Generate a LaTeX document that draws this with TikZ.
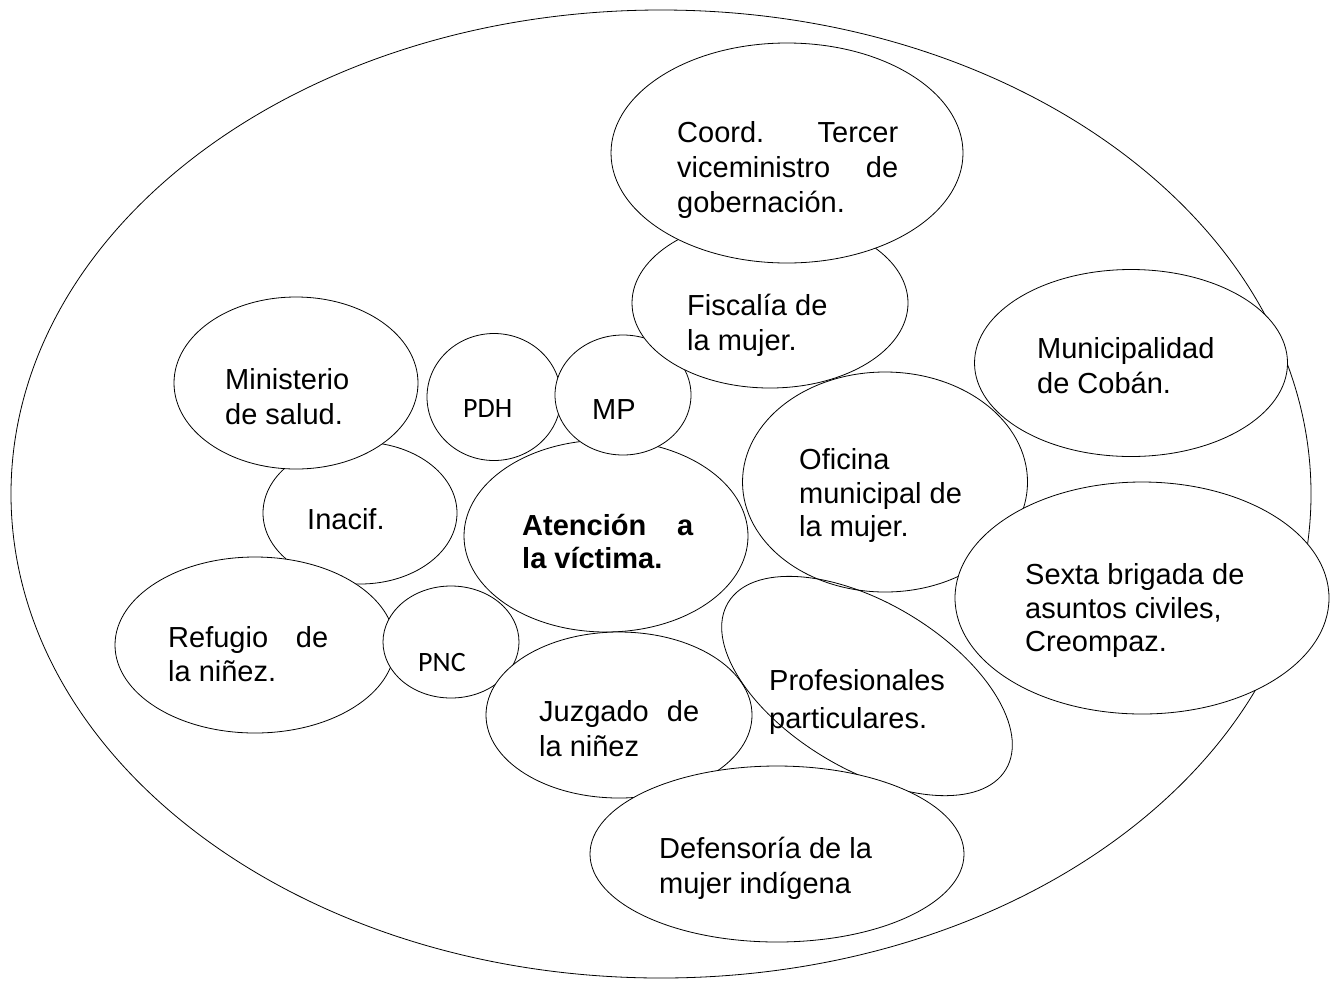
\documentclass[tikz,border=0pt]{standalone}
\usepackage{fontspec}
\setmainfont{Liberation Sans}
\newfontfamily\calfont{Carlito}
\usetikzlibrary{shapes.geometric}
\begin{document}
\begin{tikzpicture}[x=1pt,y=1pt,
  blob/.style={ellipse, draw=black, line width=0.8pt, fill=white, inner sep=0pt, outer sep=0pt},
  hollow/.style={ellipse, draw=black, line width=0.8pt, inner sep=0pt, outer sep=0pt},
  lbl/.style={anchor=base west, inner sep=0pt, font=\fontsize{29}{35}\selectfont},
  lblb/.style={anchor=base west, inner sep=0pt, font=\bfseries\fontsize{29}{35}\selectfont},
  small/.style={anchor=base west, inner sep=0pt, font=\calfont\fontsize{28}{34}\selectfont}]
\useasboundingbox (0,0) rectangle (1340,-986);
\fill[white] (0,0) rectangle (1340,-986);
% ellipses (drawing order matters)
\node[blob, minimum width=1300pt, minimum height=968pt] (outer) at (661,-494) {};
\node[blob, minimum width=194pt, minimum height=142pt] (inacif) at (360,-513) {};
\node[blob, minimum width=244pt, minimum height=172pt] (minsal) at (296,-383) {};
\node[blob, minimum width=280pt, minimum height=176pt] (refugio) at (255,-645) {};
\node[blob, minimum width=134pt, minimum height=127pt] (pdh) at (494,-397) {};
\node[blob, minimum width=284pt, minimum height=192pt] (atencion) at (606,-536) {};
\node[blob, minimum width=136pt, minimum height=120pt] (mp) at (623,-395) {};
\node[blob, minimum width=285pt, minimum height=220pt] (oficina) at (885,-482) {};
\node[blob, minimum width=276pt, minimum height=170pt] (fiscalia) at (770,-303) {};
\node[blob, minimum width=352pt, minimum height=220pt] (coord) at (787,-153) {};
\node[blob, minimum width=313pt, minimum height=187pt] (munic) at (1131,-363) {};
\node[blob, minimum width=374pt, minimum height=232pt] (sexta) at (1142,-598) {};
\node[blob, minimum width=136pt, minimum height=112pt] (pnc) at (451,-642) {};
\node[blob, minimum width=266pt, minimum height=166pt] (juzgado) at (619,-715) {};
\node[hollow, minimum width=324pt, minimum height=166pt, rotate=-31] (prof) at (867,-686) {};
\node[blob, minimum width=374pt, minimum height=176pt] (defens) at (777,-854) {};
% texts
\node[lbl] (tcoord1) at (677,-142) {\hbox to 221pt{Coord.\hfill Tercer}};
\node[lbl] (tcoord2) at (677,-177) {\hbox to 221pt{viceministro\hfill de}};
\node[lbl] (tcoord3) at (677,-212) {gobernación.};
\node[lbl] (tfisc1) at (687,-315) {Fiscalía de};
\node[lbl] (tfisc2) at (687,-350) {la mujer.};
\node[lbl] (tmun1) at (1037,-358) {Municipalidad};
\node[lbl] (tmun2) at (1037,-393) {de Cobán.};
\node[lbl] (tmin1) at (225,-389) {Ministerio};
\node[lbl] (tmin2) at (225,-424) {de salud.};
\node[small] (tpdh) at (463,-417) {PDH};
\node[lbl] (tmp) at (592,-419) {MP};
\node[lbl] (tofi1) at (799,-469) {Oficina};
\node[lbl] (tofi2) at (799,-503) {municipal de};
\node[lbl] (tofi3) at (799,-536) {la mujer.};
\node[lbl] (tina) at (307,-529) {Inacif.};
\node[lblb] (tate1) at (522,-535) {\hbox to 171pt{Atención\hfill a}};
\node[lblb] (tate2) at (522,-568) {la víctima.};
\node[lbl] (tsex1) at (1025,-584) {Sexta brigada de};
\node[lbl] (tsex2) at (1025,-618) {asuntos civiles,};
\node[lbl] (tsex3) at (1025,-651) {Creompaz.};
\node[lbl] (tref1) at (168,-647) {\hbox to 160pt{Refugio\hfill de}};
\node[lbl] (tref2) at (168,-681) {la niñez.};
\node[small] (tpnc) at (418,-671) {PNC};
\node[lbl] (tjuz1) at (539,-721) {\hbox to 160pt{Juzgado\hfill de}};
\node[lbl] (tjuz2) at (539,-756) {la niñez};
\node[lbl] (tprof1) at (769,-690) {Profesionales};
\node[lbl] (tprof2) at (769,-728) {particulares.};
\node[lbl] (tdef1) at (659,-858) {Defensoría de la};
\node[lbl] (tdef2) at (659,-893) {mujer indígena};
\end{tikzpicture}
\end{document}
